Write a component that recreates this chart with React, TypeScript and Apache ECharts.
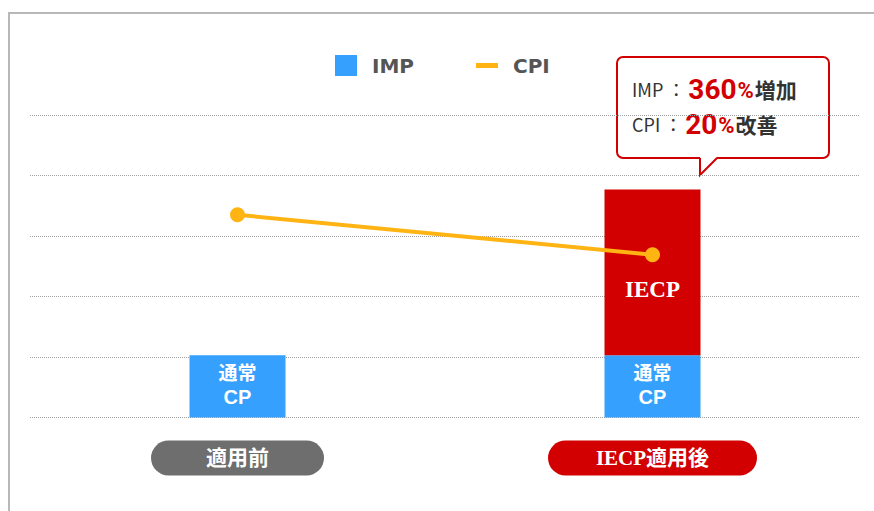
import React, { useEffect, useRef } from "react";
import * as echarts from "echarts";

const categories = ["適用前", "IECP適用後"];
const normalImp = [1.03, 1.03];
const iecpImp: (number | null)[] = [null, 2.74];
const cpi = [3.35, 2.69];
const yTicks = [0, 1, 2, 3, 4, 5];
const calloutImp = "360";
const calloutCpi = "20";

export default function App() {
  const ref = useRef<HTMLDivElement>(null);
  useEffect(() => {
    const chart = echarts.init(ref.current!, null, { renderer: "svg" });
    const jp = "'Noto Sans CJK JP', sans-serif";
    const serifJp = "'Liberation Serif', 'Noto Sans CJK JP', serif";
    const num = "Roboto, 'Liberation Sans', sans-serif";
    const rich = {
      n: { fontSize: 18, fill: "#333", fontFamily: jp },
      r: { fontSize: 28, fill: "#d20000", fontWeight: "bold", fontFamily: num, padding: [0, 0, 0, 3] },
      p: { fontSize: 22, fill: "#d20000", fontWeight: "bold", fontFamily: num, padding: [3, 1, 0, 1] },
      k: { fontSize: 21, fill: "#333", fontWeight: "bold", fontFamily: jp },
    };
    chart.setOption({
      animation: false,
      backgroundColor: "#ffffff",
      grid: { left: 30, right: 14, top: 115, bottom: 93.5 },
      legend: {
        left: 335,
        top: 55,
        padding: 0,
        itemWidth: 22,
        itemHeight: 21,
        itemGap: 62,
        textStyle: {
          fontFamily: "'DejaVu Sans', sans-serif",
          fontWeight: "bold",
          fontSize: 20,
          color: "#555",
          padding: [0, 0, 0, 10],
        },
        data: [
          { name: "IMP", icon: "rect" },
          { name: "CPI", icon: "path://M0,0h22v5H0z" },
        ],
      },
      xAxis: {
        type: "category",
        data: [
          {
            value: categories[0],
            textStyle: {
              backgroundColor: "#6e6e6e",
              width: 173,
              height: 35,
              lineHeight: 35,
              borderRadius: 17.5,
            },
          },
          {
            value: categories[1],
            textStyle: {
              backgroundColor: "#d20000",
              width: 209,
              height: 35,
              lineHeight: 35,
              borderRadius: 17.5,
            },
          },
        ],
        axisLine: { show: false },
        axisTick: { show: false },
        axisLabel: {
          margin: 23,
          color: "#fff",
          fontWeight: "bold",
          fontSize: 21,
          fontFamily: serifJp,
          align: "center",
        },
      },
      yAxis: {
        type: "value",
        min: yTicks[0],
        max: yTicks[yTicks.length - 1],
        interval: 1,
        axisLabel: { show: false },
        axisLine: { show: false },
        axisTick: { show: false },
        splitLine: { lineStyle: { color: "#a0a0a0", type: [1, 1], width: 1 } },
      },
      series: [
        {
          name: "IMP",
          type: "bar",
          stack: "imp",
          barWidth: 96,
          data: normalImp,
          itemStyle: { color: "#36a0fe" },
          label: {
            show: true,
            position: "inside",
            offset: [0, -2],
            formatter: "{a|通常}\n{b|CP}",
            rich: {
              a: {
                color: "#fff",
                fontWeight: "bold",
                fontSize: 19,
                lineHeight: 26,
                fontFamily: jp,
              },
              b: {
                color: "#fff",
                fontWeight: "bold",
                fontSize: 20,
                lineHeight: 26,
                fontFamily: "'Liberation Sans', sans-serif",
              },
            },
          },
        },
        {
          name: "IECP",
          type: "bar",
          stack: "imp",
          barWidth: 96,
          data: iecpImp,
          itemStyle: { color: "#d20000" },
          label: {
            show: true,
            position: "inside",
            offset: [0, 17],
            formatter: "IECP",
            color: "#fff",
            fontWeight: "bold",
            fontSize: 23,
            fontFamily: "'Liberation Serif', serif",
          },
        },
        {
          name: "CPI",
          type: "line",
          data: cpi,
          symbol: "circle",
          symbolSize: 15,
          itemStyle: { color: "#ffb414" },
          lineStyle: { color: "#ffb414", width: 4 },
          z: 5,
        },
      ],
      graphic: [
        {
          type: "polyline",
          shape: { points: [[9, 511], [9, 13], [874, 13]] },
          style: { stroke: "#b8b8b8", lineWidth: 2, fill: "none" },
          silent: true,
        },
        {
          type: "group",
          z: 100,
          children: [
            {
              type: "rect",
              shape: { x: 617, y: 57, width: 212, height: 101, r: 6 },
              style: { fill: "#fff", stroke: "#d20000", lineWidth: 2 },
            },
            {
              type: "polygon",
              shape: { points: [[700, 157], [700, 175], [717, 157]] },
              style: { fill: "#fff", stroke: "none" },
            },
            {
              type: "polyline",
              shape: { points: [[700, 158], [700, 175], [717, 158]] },
              style: { fill: "none", stroke: "#d20000", lineWidth: 2 },
            },
            {
              type: "text",
              x: 632,
              y: 89,
              style: {
                text: `{n|IMP ：}{r|${calloutImp}}{p|%}{k|増加}`,
                verticalAlign: "middle",
                rich,
              },
            },
            {
              type: "text",
              x: 632,
              y: 124,
              style: {
                text: `{n|CPI ：}{r|${calloutCpi}}{p|%}{k|改善}`,
                verticalAlign: "middle",
                rich,
              },
            },
          ],
        },
      ],
    });
    return () => chart.dispose();
  }, []);
  return (
    <div
      ref={ref}
      style={{ position: "fixed", left: 0, top: 0, width: 874, height: 511 }}
    />
  );
}
